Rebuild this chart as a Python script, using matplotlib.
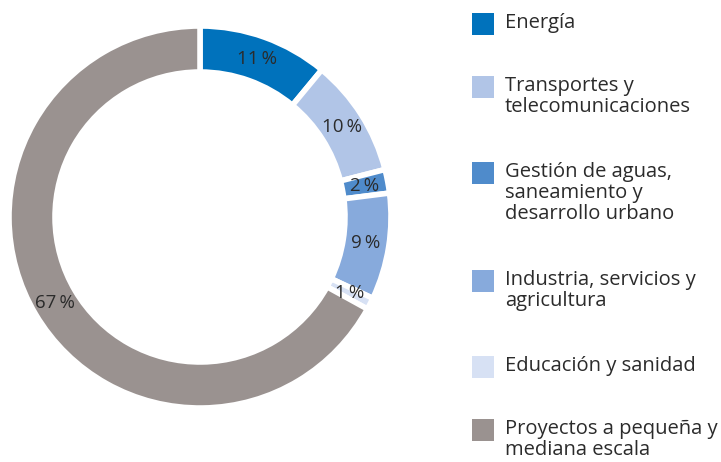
import matplotlib
matplotlib.use("Agg")
import matplotlib.pyplot as plt
from matplotlib.patches import Rectangle
import numpy as np

categories = ["Energía", "Transportes y\ntelecomunicaciones",
              "Gestión de aguas,\nsaneamiento y\ndesarrollo urbano",
              "Industria, servicios y\nagricultura", "Educación y sanidad",
              "Proyectos a pequeña y\nmediana escala"]
values = [11, 10, 2, 9, 1, 67]
labels = ["11\u2009%", "10\u2009%", "2\u2009%", "9\u2009%", "1\u2009%", "67\u2009%"]
colors = ["#0072BC", "#B1C5E7", "#4F8BCB", "#87AADC", "#D7E1F4", "#9A9290"]

FONT = ["Open Sans", "DejaVu Sans"]
TXT = "#2b2b2b"

W, H = 721, 462
fig = plt.figure(figsize=(W / 100, H / 100), dpi=100)
ax = fig.add_axes([0, 0, 1, 1])

cx, cy = 200, H - 217
R, ring = 191, 46
wedges, _ = ax.pie(values, colors=colors, startangle=90, counterclock=False,
                   radius=R, center=(cx, cy), frame=True,
                   wedgeprops=dict(width=ring, edgecolor="white", linewidth=4))
ax.set_xlim(0, W)
ax.set_ylim(0, H)
ax.set_aspect("equal")
ax.axis("off")

# percentage labels at wedge midpoints
for w, lab in zip(wedges, labels):
    ang = np.deg2rad((w.theta1 + w.theta2) / 2)
    rr = R - ring / 2
    ax.text(cx + rr * np.cos(ang), cy + rr * np.sin(ang), lab,
            ha="center", va="center", fontsize=13.5, color=TXT, family=FONT)

# legend
row_centers = [24, 87, 173, 281, 367, 430]
sq = 22
for yc, cat, col in zip(row_centers, categories, colors):
    ax.add_patch(Rectangle((472, H - yc - sq / 2), sq, sq, facecolor=col,
                           edgecolor="none"))
    ax.text(505, H - yc + 11, cat, ha="left", va="top", fontsize=14.5,
            color=TXT, family=FONT, linespacing=1.08)

fig.savefig("out.png", dpi=100)
